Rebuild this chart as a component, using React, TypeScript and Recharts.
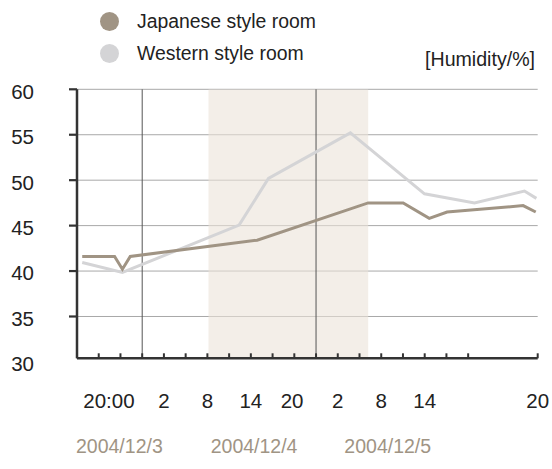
import {
    LineChart,
    Line,
    XAxis,
    YAxis,
    CartesianGrid,
    ReferenceArea,
    ReferenceLine,
} from "recharts";

// x values are axis slots (one slot = 3 hours) counted from the left end of the axis
const japaneseX = [0.24, 1.73, 2.09, 2.45, 8.29, 13.4, 15.01, 16.21, 17.03, 20.53, 21.11];
const japaneseY = [41.6, 41.6, 40.2, 41.6, 43.4, 47.5, 47.5, 45.8, 46.5, 47.2, 46.5];
const westernX = [0.24, 2.09, 7.46, 8.81, 12.58, 15.99, 18.29, 20.59, 21.14];
const westernY = [40.95, 39.85, 45.05, 50.2, 55.2, 48.5, 47.5, 48.8, 48.0];

const seriesNames = ["Japanese style room", "Western style room"];
const seriesColors = ["#a09484", "#d4d4d6"];

const tickMarks = [0, 1, 2, 3, 4, 5, 6, 7, 8, 9, 10, 11, 12, 13, 14, 15, 16, 17, 18, 21.2];
const hourPos = [1.47, 4, 6, 8, 9.9, 12, 14, 16, 21.2];
const hourText = ["20:00", "2", "8", "14", "20", "2", "8", "14", "20"];
const datePos = [1.95, 8.15, 14.3];
const dateText = ["2004/12/3", "2004/12/4", "2004/12/5"];
const dayLines = [3, 11];
const nightBand = [6.05, 13.4];
const yTicks = [30, 35, 40, 45, 50, 55, 60];
const gridValues = [35, 40, 45, 50, 55, 60];
const yDomain = [30.4, 60];

const japaneseData = japaneseX.map((x, i) => ({ x, v: japaneseY[i] }));
const westernData = westernX.map((x, i) => ({ x, v: westernY[i] }));
const xTicks = Array.from(new Set([...tickMarks, ...hourPos, ...datePos])).sort((a, b) => a - b);

const FONT = '"Liberation Sans", Arial, Helvetica, sans-serif';

function XTick(props: any) {
    const { x, y, payload } = props;
    const v = payload.value;
    const hi = hourPos.indexOf(v);
    const di = datePos.indexOf(v);
    return (
        <g>
            {tickMarks.includes(v) && (
                <line x1={x} x2={x} y1={y} y2={y - 5} stroke="#333" strokeWidth={2} />
            )}
            {hi >= 0 && (
                <text x={x} y={y + 42} textAnchor="middle" dy="0.36em" fontSize={20.5} fill="#222" fontFamily={FONT}>
                    {hourText[hi]}
                </text>
            )}
            {di >= 0 && (
                <text x={x} y={y + 88} textAnchor="middle" dy="0.36em" fontSize={19.5} fill="#a09484" fontFamily={FONT}>
                    {dateText[di]}
                </text>
            )}
        </g>
    );
}

function YTick(props: any) {
    const { x, y, payload } = props;
    const v = payload.value;
    return (
        <g>
            {v >= yDomain[0] && (
                <line x1={x} x2={x - 8} y1={y} y2={y} stroke="#333" strokeWidth={2.2} />
            )}
            <text x={x - 43} y={y + 2} textAnchor="end" dy="0.36em" fontSize={20.5} fill="#222" fontFamily={FONT}>
                {v}
            </text>
        </g>
    );
}

export default function App() {
    return (
        <div style={{ position: "absolute", left: 0, top: 0, width: 552, height: 469, background: "#fff", fontFamily: FONT }}>
            <LineChart width={552} height={469} margin={{ top: 89.3, right: 14.3, left: 0, bottom: 0 }}>
                <ReferenceArea x1={nightBand[0]} x2={nightBand[1]} fill="#ebe3d9" fillOpacity={0.6} stroke="none" ifOverflow="hidden" />
                <CartesianGrid horizontal vertical={false} horizontalValues={gridValues} stroke="#a8a8a8" strokeWidth={1} />
                {dayLines.map((d) => (
                    <ReferenceLine key={d} x={d} stroke="#555" strokeWidth={1} />
                ))}
                <XAxis
                    type="number"
                    dataKey="x"
                    domain={[0, 21.2]}
                    allowDataOverflow
                    ticks={xTicks}
                    interval={0}
                    height={110.7}
                    tickSize={0}
                    tickMargin={0}
                    tickLine={false}
                    tick={<XTick />}
                    axisLine={{ stroke: "#333", strokeWidth: 2.5 }}
                />
                <YAxis
                    type="number"
                    domain={yDomain}
                    allowDataOverflow
                    ticks={yTicks}
                    interval={0}
                    width={77}
                    tickSize={0}
                    tickMargin={0}
                    tickLine={false}
                    tick={<YTick />}
                    axisLine={{ stroke: "#333", strokeWidth: 2.5 }}
                />
                <Line data={westernData} dataKey="v" type="linear" stroke={seriesColors[1]} strokeWidth={3} dot={false} isAnimationActive={false} />
                <Line data={japaneseData} dataKey="v" type="linear" stroke={seriesColors[0]} strokeWidth={3} dot={false} isAnimationActive={false} />
            </LineChart>
            {seriesNames.map((name, i) => (
                <div key={name} style={{ position: "absolute", left: 100, top: 21.7 + i * 31.6 - 11, height: 22, display: "flex", alignItems: "center" }}>
                    <div style={{ width: 19, height: 19, borderRadius: "50%", background: seriesColors[i] }} />
                    <span style={{ marginLeft: 18, fontSize: 19.4, color: "#222", whiteSpace: "nowrap" }}>{name}</span>
                </div>
            ))}
            <div style={{ position: "absolute", right: 17, top: 48, fontSize: 19.6, color: "#222", whiteSpace: "nowrap" }}>
                [Humidity/%]
            </div>
        </div>
    );
}
